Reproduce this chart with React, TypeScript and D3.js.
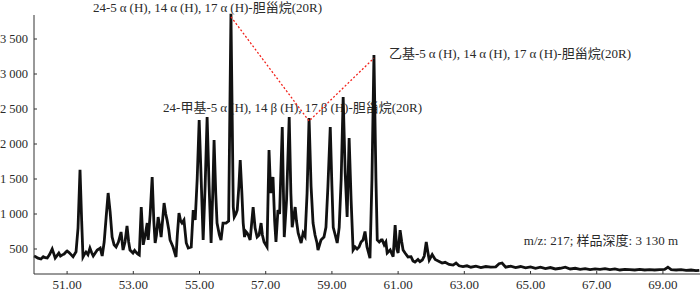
import * as d3 from 'd3';
import React from 'react';

const width = 700;
const height = 291;
const margin = { top: 15, right: 0, bottom: 17, left: 34 };

// retention time (min) and abundance
const times = [
  50.0, 50.05, 50.12, 50.21, 50.28, 50.34, 50.4, 50.47, 50.55, 50.6, 50.64, 50.7, 50.75, 50.8, 50.87, 50.91, 50.97,
  51.0, 51.06, 51.12, 51.18, 51.27, 51.33, 51.39, 51.44, 51.48, 51.53, 51.57, 51.63, 51.69, 51.74, 51.79, 51.86, 51.91, 51.96,
  52.0, 52.06, 52.12, 52.18, 52.24, 52.3, 52.36, 52.42, 52.48, 52.55, 52.63, 52.69, 52.75, 52.81, 52.86, 52.9, 52.99,
  53.04, 53.08, 53.13, 53.18, 53.24, 53.3, 53.36, 53.42, 53.45, 53.51, 53.57, 53.62, 53.66, 53.7, 53.75, 53.8, 53.84, 53.93, 53.98,
  54.02, 54.07, 54.11, 54.2, 54.25, 54.29, 54.33, 54.38, 54.43, 54.47, 54.53, 54.6, 54.66, 54.75, 54.81, 54.87, 54.93, 54.99,
  55.05, 55.11, 55.17, 55.23, 55.29, 55.35, 55.4, 55.44, 55.49, 55.53, 55.6, 55.65, 55.71, 55.8, 55.88, 55.95,
  56.02, 56.05, 56.1, 56.14, 56.19, 56.23, 56.28, 56.32, 56.36, 56.4, 56.44, 56.49, 56.53, 56.62, 56.68, 56.74, 56.8, 56.86, 56.9, 56.95,
  57.04, 57.1, 57.15, 57.19, 57.22, 57.27, 57.31, 57.37, 57.42, 57.5, 57.56, 57.63, 57.71, 57.76, 57.8, 57.89, 57.93, 57.98,
  58.03, 58.07, 58.13, 58.19, 58.25, 58.31, 58.37, 58.43, 58.49, 58.55, 58.58, 58.67, 58.76, 58.82, 58.88, 58.95,
  59.0, 59.04, 59.1, 59.16, 59.22, 59.28, 59.34, 59.4, 59.46, 59.52, 59.58, 59.64, 59.7, 59.76, 59.82, 59.88, 59.94,
  60.0, 60.06, 60.15, 60.21, 60.27, 60.33, 60.37, 60.43, 60.49, 60.52, 60.58, 60.63, 60.67, 60.76, 60.85, 60.91, 60.96,
  61.0, 61.06, 61.11, 61.15, 61.21, 61.3, 61.39, 61.45, 61.51, 61.6, 61.66, 61.73, 61.79, 61.85, 61.9, 61.94,
  62.03, 62.12, 62.21, 62.33, 62.42, 62.54, 62.66, 62.75, 62.84, 62.96,
  63.08, 63.2, 63.35, 63.5, 63.65, 63.8, 63.95, 64.05, 64.14, 64.25, 64.4, 64.55, 64.7, 64.85,
  65.0, 65.15, 65.3, 65.45, 65.6, 65.75, 65.9, 66.05, 66.2, 66.35, 66.5, 66.65, 66.8, 66.95,
  67.1, 67.25, 67.4, 67.55, 67.7, 67.85, 68.0, 68.15, 68.3, 68.45, 68.6, 68.75, 68.9,
  69.05, 69.15, 69.25, 69.4, 69.55, 69.7, 69.85, 70.0, 70.1,
];

const intensity = [
  400, 390, 370, 357, 390, 375, 371, 420, 500, 430, 371, 410, 443, 400, 420, 429, 460,
  471, 450, 420, 390, 460, 800, 1630, 900, 386, 430, 457, 420, 514, 450, 400, 450, 486, 500,
  514, 400, 600, 957, 1300, 1029, 671, 560, 529, 600, 743, 486, 600, 829, 600, 486, 443,
  480, 457, 430, 414, 1100, 560, 700, 871, 629, 1000, 1529, 900, 586, 700, 957, 820, 671, 1157, 1000,
  914, 780, 629, 529, 450, 386, 700, 1014, 900, 871, 914, 586, 514, 529, 1057, 914, 1500, 2343,
  1500, 629, 1400, 2386, 1400, 586, 1300, 2057, 1300, 871, 700, 629, 871, 871, 900, 3860,
  1100, 957, 1000, 1057, 1400, 1771, 1300, 870, 671, 750, 729, 680, 629, 1100, 800, 671, 700, 871, 700, 600,
  529, 1914, 1300, 1443, 1529, 900, 600, 1057, 1000, 2243, 671, 1200, 2386, 1300, 810, 1100, 900, 729,
  650, 586, 729, 680, 1300, 2371, 1400, 871, 700, 586, 486, 629, 671, 810, 1400, 2243,
  1400, 810, 700, 586, 810, 1500, 2671, 1600, 957, 2086, 1200, 486, 529, 500, 529, 600, 629,
  750, 529, 370, 1500, 3270, 1500, 629, 600, 629, 630, 560, 600, 443, 486, 390, 840, 500,
  443, 770, 600, 486, 443, 386, 390, 330, 314, 350, 320, 343, 400, 600, 450, 343,
  420, 350, 330, 300, 310, 280, 270, 300, 260, 250,
  260, 240, 255, 235, 250, 240, 245, 290, 300, 240, 255, 235, 250, 230,
  245, 225, 240, 220, 235, 215, 225, 240, 215, 225, 210, 220, 205, 215,
  210, 220, 205, 215, 200, 210, 205, 200, 210, 200, 205, 200, 205,
  210, 240, 205, 200, 205, 195, 200, 190, 195,
];

const xTicks = [51, 53, 55, 57, 59, 61, 63, 65, 67, 69];
const yTicks = [500, 1000, 1500, 2000, 2500, 3000, 3500];
const yTickLabels = ['500', '1 000', '1 500', '2 000', '2 500', '3 000', '3 500'];

const peakTimes = [55.95, 58.31, 60.27];
const peakNames = [
  '24-5α(H), 14α(H), 17α(H)-胆甾烷(20R)',
  '24-甲基-5α(H), 14β(H), 17β(H)-胆甾烷(20R)',
  '乙基-5α(H), 14α(H), 17α(H)-胆甾烷(20R)',
];
const note = 'm/z: 217; 样品深度: 3 130 m';

const font = "'Liberation Serif', 'Noto Sans CJK SC', serif";
const ink = '#2a2a2a';

// greek letters sit in a little extra space, like the full-width glyphs of the source
const Label = ({ x, y, text }) => {
  const parts = text.split(/([αβ])/).filter((p) => p !== '');
  let afterGreek = false;
  return (
    <text x={x} y={y} fontSize={13} fontFamily={font} fill={ink}>
      {parts.map((p, i) => {
        const greek = p === 'α' || p === 'β';
        const dx = greek || afterGreek ? 3 : 0;
        afterGreek = greek;
        return (
          <tspan key={i} dx={dx}>
            {p}
          </tspan>
        );
      })}
    </text>
  );
};

const App = () => {
  const xScale = d3.scaleLinear().domain([50, 70.12]).range([margin.left, width - margin.right]);
  const yScale = d3.scaleLinear().domain([143, 3843]).range([height - margin.bottom, margin.top]);

  const points = times.map((t, i) => [t, intensity[i]]);
  const line = d3
    .line()
    .x((d) => xScale(d[0]))
    .y((d) => yScale(d[1]));

  const peaks = peakTimes.map((t) => points[times.indexOf(t)]);
  const peakLine = d3
    .line()
    .x((d) => xScale(d[0]))
    .y((d) => yScale(d[1]) + 3);

  const x0 = margin.left;
  const y0 = height - margin.bottom;
  const labelPos = [
    { dx: -138, y: 12 },
    { dx: -146, y: 112 },
    { dx: 15, y: 58 },
  ];

  return (
    <svg width={width} height={height} style={{ position: 'absolute', left: 0, top: 0 }}>
      <rect width={width} height={height} fill="#fff" />

      {peaks.map((p, i) => (
        <Label key={i} x={xScale(p[0]) + labelPos[i].dx} y={labelPos[i].y} text={peakNames[i]} />
      ))}
      <text x={678} y={245} textAnchor="end" fontSize={13} fontFamily={font} fill={ink}>
        {note}
      </text>

      <path d={line(points)} fill="none" stroke="#111" strokeWidth={2.8} strokeLinejoin="miter" />
      <path d={peakLine(peaks)} fill="none" stroke="#f2231c" strokeWidth={1.3} strokeDasharray="2,2" />

      {/* axes */}
      <g stroke="#333" strokeWidth={1}>
        <line x1={x0} x2={width} y1={y0} y2={y0} />
        <line x1={x0} x2={x0} y1={margin.top} y2={y0} />
        {xTicks.map((t) => (
          <line key={t} x1={xScale(t)} x2={xScale(t)} y1={y0} y2={y0 - 3} />
        ))}
        {yTicks.map((v) => (
          <line key={v} x1={x0} x2={x0 + 3} y1={yScale(v)} y2={yScale(v)} />
        ))}
      </g>
      {xTicks.map((t) => (
        <text key={t} x={xScale(t)} y={y0 + 15} textAnchor="middle" fontSize={13} fontFamily={font} fill={ink}>
          {t.toFixed(2)}
        </text>
      ))}
      {yTicks.map((v, i) => (
        <text key={v} x={x0 - 6} y={yScale(v)} dy="0.35em" textAnchor="end" fontSize={12.5} fontFamily={font} fill={ink}>
          {yTickLabels[i]}
        </text>
      ))}
    </svg>
  );
};

export default App;
